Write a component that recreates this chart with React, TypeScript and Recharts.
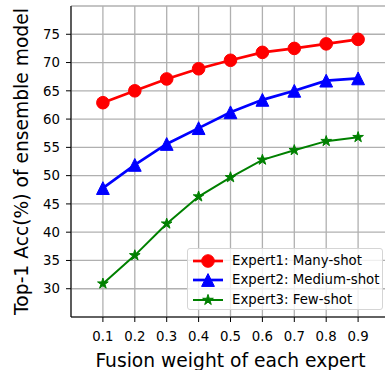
import React from 'react';
import { LineChart, Line, XAxis, YAxis, CartesianGrid, Legend } from 'recharts';

const weights = [0.1, 0.2, 0.3, 0.4, 0.5, 0.6, 0.7, 0.8, 0.9];
const manyShot = [62.9, 65.0, 67.1, 68.9, 70.4, 71.8, 72.5, 73.3, 74.1];
const mediumShot = [47.8, 51.9, 55.6, 58.4, 61.2, 63.4, 65.0, 66.8, 67.2];
const fewShot = [30.9, 35.9, 41.5, 46.3, 49.7, 52.8, 54.5, 56.1, 56.8];
const xTicks = [0.1, 0.2, 0.3, 0.4, 0.5, 0.6, 0.7, 0.8, 0.9];
const yTicks = [30, 35, 40, 45, 50, 55, 60, 65, 70, 75];
const seriesNames = ['Expert1: Many-shot', 'Expert2: Medium-shot', 'Expert3: Few-shot'];
const seriesKeys = ['many', 'medium', 'few'];
const seriesColors = ['#ff0000', '#0000ff', '#008000'];
const seriesShapes = ['circle', 'triangle', 'star'];
const seriesWidths = [2.7, 2.7, 2];
const xLabel = 'Fusion weight of each expert';
const yLabel = 'Top-1 Acc(%) of ensemble model';

const data = weights.map((w, i) => ({
  w,
  many: manyShot[i],
  medium: mediumShot[i],
  few: fewShot[i],
}));

const FONT = '"DejaVu Sans", sans-serif';

function starPoints(cx: number, cy: number, R: number) {
  const r = R * 0.381966;
  const pts: string[] = [];
  for (let k = 0; k < 10; k++) {
    const ang = -Math.PI / 2 + (k * Math.PI) / 5;
    const rad = k % 2 === 0 ? R : r;
    pts.push(`${cx + rad * Math.cos(ang)},${cy + rad * Math.sin(ang)}`);
  }
  return pts.join(' ');
}

function MarkerShape({ shape, cx, cy, color }: { shape: string; cx: number; cy: number; color: string }) {
  if (shape === 'circle') {
    return <circle cx={cx} cy={cy} r={6.3} fill={color} stroke={color} strokeWidth={1} />;
  }
  if (shape === 'triangle') {
    const h = 6.4;
    return (
      <polygon
        points={`${cx},${cy - h} ${cx - h},${cy + h} ${cx + h},${cy + h}`}
        fill={color}
        stroke={color}
        strokeWidth={1}
      />
    );
  }
  return <polygon points={starPoints(cx, cy, 5.6)} fill={color} stroke={color} strokeWidth={1} strokeLinejoin="miter" />;
}

function makeDot(shape: string, color: string) {
  return (props: any) => {
    const { cx, cy, index } = props;
    if (cx == null || cy == null) return <g key={`d-${shape}-${index}`} />;
    return (
      <g key={`d-${shape}-${index}`}>
        <MarkerShape shape={shape} cx={cx} cy={cy} color={color} />
      </g>
    );
  };
}

function LegendBox() {
  return (
    <div
      style={{
        width: 196,
        height: 62,
        border: '1px solid #d5d5d5',
        borderRadius: 3,
        background: 'rgba(255,255,255,0.8)',
        fontFamily: FONT,
        fontSize: 13.3,
        color: '#000',
        boxSizing: 'border-box',
        position: 'relative',
      }}
    >
      {seriesNames.map((name, i) => (
        <div
          key={name}
          style={{ position: 'absolute', left: 4, top: 2.5 + i * 19.7, height: 18, display: 'flex', alignItems: 'center' }}
        >
          <svg width={32} height={18} style={{ display: 'block' }}>
            <line x1={1} y1={9} x2={31} y2={9} stroke={seriesColors[i]} strokeWidth={seriesWidths[i]} />
            <MarkerShape shape={seriesShapes[i]} cx={16} cy={9} color={seriesColors[i]} />
          </svg>
          <span style={{ marginLeft: 8, whiteSpace: 'nowrap', lineHeight: '18px' }}>{name}</span>
        </div>
      ))}
    </div>
  );
}

export default function App() {
  return (
    <div style={{ position: 'absolute', left: 0, top: 0, width: 385, height: 370, overflow: 'hidden', background: '#fff' }}>
      <LineChart width={395} height={370} data={data} margin={{ top: 6, right: 5, left: 0, bottom: 0 }}>
        <CartesianGrid stroke="#b0b0b0" strokeWidth={1.3} />
        <XAxis
          dataKey="w"
          type="number"
          domain={[0, 1]}
          ticks={xTicks}
          height={53}
          tickSize={5}
          tickMargin={10}
          stroke="#000"
          tick={{ fill: '#000', fontSize: 13.3, fontFamily: FONT }}
          tickLine={{ stroke: '#000' }}
          axisLine={{ stroke: '#000', strokeWidth: 1.1 }}
          interval={0}
          label={{
            content: (p: any) => {
              const vb = p.viewBox || { x: 71, y: 317, width: 319, height: 53 };
              return (
                <text x={vb.x + vb.width / 2} y={vb.y + 49.5} textAnchor="middle" fontFamily={FONT} fontSize={18.7} fill="#000">
                  {xLabel}
                </text>
              );
            },
          }}
        />
        <XAxis
          xAxisId="top"
          orientation="top"
          type="number"
          domain={[0, 1]}
          height={0}
          tick={false}
          tickLine={false}
          axisLine={{ stroke: '#000', strokeWidth: 1.1 }}
        />
        <YAxis
          type="number"
          domain={[25, 80]}
          ticks={yTicks}
          width={71}
          tickSize={5}
          tickMargin={6}
          stroke="#000"
          tick={{ fill: '#000', fontSize: 13.3, fontFamily: FONT }}
          tickLine={{ stroke: '#000' }}
          axisLine={{ stroke: '#000', strokeWidth: 1.1 }}
          interval={0}
          allowDataOverflow
          label={{
            content: (p: any) => {
              const vb = p.viewBox || { x: 0, y: 6, width: 71, height: 311 };
              const x = vb.x + 27.5;
              const y = vb.y + vb.height / 2;
              return (
                <text
                  x={x}
                  y={y}
                  transform={`rotate(-90, ${x}, ${y})`}
                  textAnchor="middle"
                  fontFamily={FONT}
                  fontSize={18.7}
                  fill="#000"
                >
                  {yLabel}
                </text>
              );
            },
          }}
        />
        {seriesKeys.map((k, i) => (
          <Line
            key={k}
            dataKey={k}
            name={seriesNames[i]}
            stroke={seriesColors[i]}
            strokeWidth={seriesWidths[i]}
            dot={makeDot(seriesShapes[i], seriesColors[i])}
            activeDot={false}
            isAnimationActive={false}
          />
        ))}
        <Legend
          layout="vertical"
          align="center"
          verticalAlign="middle"
          content={() => <LegendBox />}
          wrapperStyle={{ position: 'absolute', left: 187, top: 248, width: 196, height: 62, margin: 0, padding: 0 }}
        />
      </LineChart>
    </div>
  );
}
